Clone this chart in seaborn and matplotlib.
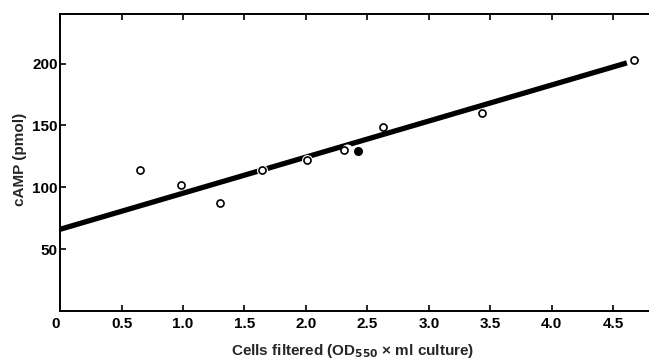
import matplotlib
matplotlib.use("Agg")
import matplotlib.pyplot as plt
import matplotlib.transforms as mtransforms
import seaborn as sns
import pandas as pd

# Measured cAMP versus amount of cells filtered
cells_open = [0.65, 0.98, 1.30, 1.64, 2.01, 2.31, 2.63, 3.43, 4.67]
camp_open = [114, 102, 87, 114, 122, 130, 149, 160, 203]
cells_filled = [2.42]
camp_filled = [129]

# Fitted regression line (end points)
fit_x = [0.0, 4.61]
fit_y = [66.0, 200.5]

# Points lying on the line, where the line is broken around the symbol
on_line_x = [1.64, 2.01, 2.33]
on_line_y = [114, 122, 130]
halo_size = [11, 11, 12]

x_ticks = [0, 0.5, 1.0, 1.5, 2.0, 2.5, 3.0, 3.5, 4.0, 4.5]
x_tick_labels = ["0", "0.5", "1.0", "1.5", "2.0", "2.5", "3.0", "3.5", "4.0", "4.5"]
y_ticks = [50, 100, 150, 200]

sns.set_style("ticks")
plt.rcParams["font.family"] = ["Liberation Sans", "DejaVu Sans"]
plt.rcParams["font.weight"] = "bold"

fig = plt.figure(figsize=(6.49, 3.63), dpi=100)
ax = fig.add_axes([0.0925, 0.1433, 0.9075, 0.8181])

fit_df = pd.DataFrame({"x": fit_x, "y": fit_y})
sns.lineplot(data=fit_df, x="x", y="y", ax=ax, color="black", linewidth=3.8,
             solid_capstyle="butt", zorder=2)

# white gaps in the line around the symbols that sit on it
for hx, hy, hs in zip(on_line_x, on_line_y, halo_size):
    ax.plot([hx], [hy], marker="o", markersize=hs * 0.72, color="white",
            markeredgewidth=0, linestyle="none", zorder=3)

open_df = pd.DataFrame({"x": cells_open, "y": camp_open})
sns.scatterplot(data=open_df, x="x", y="y", ax=ax, marker="o", s=26,
                facecolor="white", edgecolor="black", linewidth=1.2, zorder=4)
filled_df = pd.DataFrame({"x": cells_filled, "y": camp_filled})
sns.scatterplot(data=filled_df, x="x", y="y", ax=ax, marker="o", s=30,
                color="black", edgecolor="black", linewidth=1.0, zorder=4)

ax.set_xlim(0, 4.79)
ax.set_ylim(0, 240)
ax.set_xticks(x_ticks)
ax.set_xticklabels(x_tick_labels)
ax.set_yticks(y_ticks)

for side in ["left", "bottom", "top"]:
    ax.spines[side].set_linewidth(1.4)
    ax.spines[side].set_color("black")
ax.spines["right"].set_visible(False)

ax.tick_params(axis="both", direction="in", length=4, width=1.2, labelsize=11,
               colors="black")
ax.tick_params(axis="x", top=True, pad=4)
ax.tick_params(axis="y", pad=1.5)
for lbl in ax.get_xticklabels() + ax.get_yticklabels():
    lbl.set_fontweight("bold")

# nudge the origin label slightly left
zero_lbl = ax.get_xticklabels()[0]
zero_lbl.set_transform(zero_lbl.get_transform() +
                       mtransforms.ScaledTranslation(-4 / 100, 0, fig.dpi_scale_trans))

ax.set_xlabel("Cells filtered (OD$_{\\mathbf{550}}$ × ml culture)", fontsize=11,
              fontweight="bold")
ax.set_ylabel("cAMP (pmol)", fontsize=11, fontweight="bold")
ax.xaxis.set_label_coords(0.497, -0.135)
ax.xaxis.label.set_va("center")
ax.yaxis.set_label_coords(-0.068, 0.51)
ax.yaxis.label.set_va("center")

fig.savefig("out.png", dpi=100)
